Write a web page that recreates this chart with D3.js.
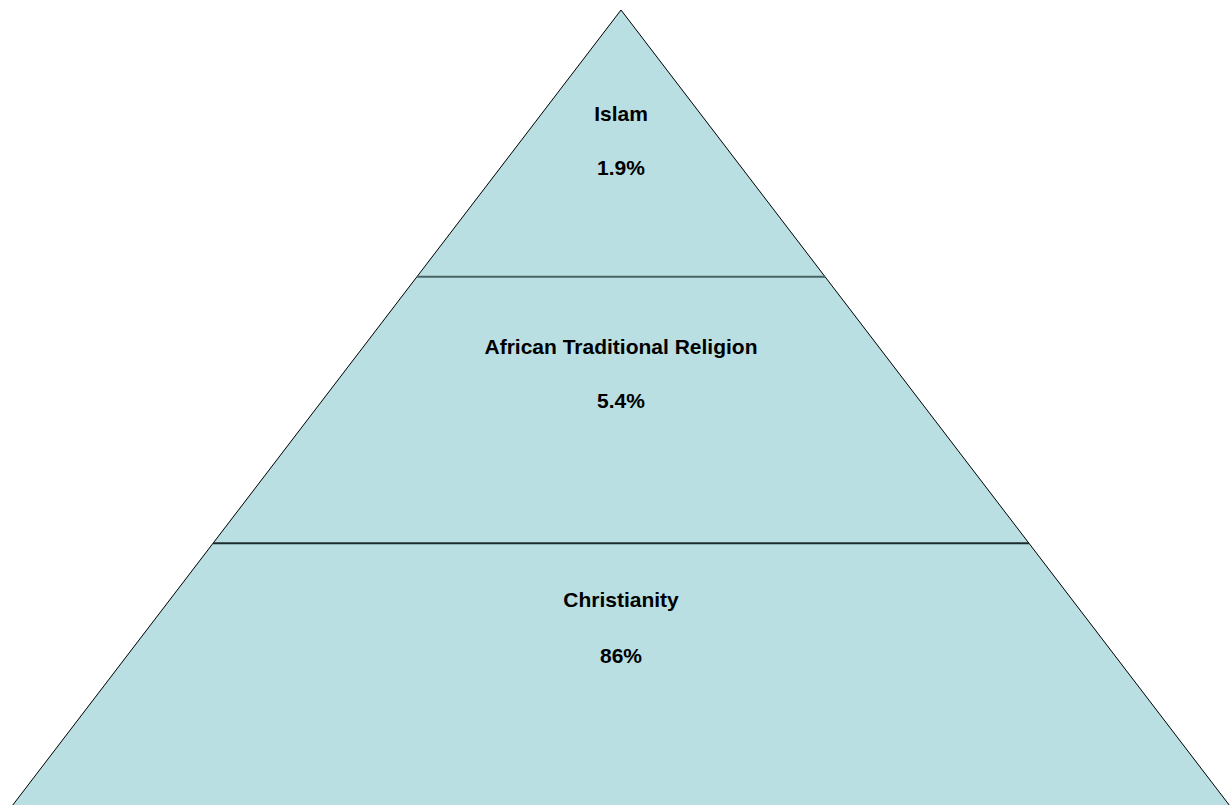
<!DOCTYPE html>
<html>
<head>
<meta charset="utf-8">
<script src="https://cdn.jsdelivr.net/npm/d3@7"></script>
<style>
  html, body { margin: 0; padding: 0; background: #ffffff; }
  svg { display: block; }
</style>
</head>
<body>
<svg id="chart" width="1231" height="805"></svg>
<script>
// Data (top of pyramid to bottom)
const categories = ["Islam", "African Traditional Religion", "Christianity"];
const values = [1.9, 5.4, 86];

const W = 1231, H = 805;
const apexX = 621, apexY = 10, baseY = 810, baseHalf = 612;
const fillColor = "#b9dfe3";

const svg = d3.select("#chart");

// Vertical band scale: each category gets an equal-height band
const y = d3.scaleLinear().domain([0, categories.length]).range([apexY, baseY]);
// Half-width as a function of y
const hw = d3.scaleLinear().domain([apexY, baseY]).range([0, baseHalf]);

const bands = categories.map((c, i) => ({
  cat: c, val: values[i], y0: y(i), y1: y(i + 1)
}));

// band polygons
svg.selectAll("path.band").data(bands).join("path")
  .attr("class", "band")
  .attr("d", d => {
    const p = d3.path();
    p.moveTo(apexX - hw(d.y0), d.y0);
    p.lineTo(apexX + hw(d.y0), d.y0);
    p.lineTo(apexX + hw(d.y1), d.y1);
    p.lineTo(apexX - hw(d.y1), d.y1);
    p.closePath();
    return p.toString();
  })
  .attr("fill", fillColor)
  .attr("stroke", fillColor)
  .attr("stroke-width", 0.5);

// outer outline (two sides)
const outline = d3.path();
outline.moveTo(apexX - hw(baseY), baseY);
outline.lineTo(apexX, apexY);
outline.lineTo(apexX + hw(baseY), baseY);
svg.append("path").attr("d", outline.toString())
  .attr("fill", "none").attr("stroke", "#000").attr("stroke-width", 1);

// divider lines
const dividerColors = ["#4a6464", "#1c2c2c"];
svg.selectAll("line.div").data(bands.slice(1)).join("line")
  .attr("class", "div")
  .attr("x1", d => apexX - hw(d.y0))
  .attr("x2", d => apexX + hw(d.y0))
  .attr("y1", d => d.y0)
  .attr("y2", d => d.y0)
  .attr("stroke", (d, i) => dividerColors[i])
  .attr("stroke-width", 2);

// label offsets from band top (layout)
const labelOff = [111, 77, 64];
const valueGap = [54, 54, 56];

const fmt = v => d3.format("")(v) + "%";

const g = svg.selectAll("g.lbl").data(bands).join("g").attr("class", "lbl");
g.append("text")
  .attr("x", apexX)
  .attr("y", (d, i) => d.y0 + labelOff[i])
  .attr("text-anchor", "middle")
  .attr("font-family", "Arial, 'Liberation Sans', sans-serif")
  .attr("font-weight", "bold")
  .attr("font-size", 21)
  .attr("fill", "#000")
  .text(d => d.cat);
g.append("text")
  .attr("x", apexX)
  .attr("y", (d, i) => d.y0 + labelOff[i] + valueGap[i])
  .attr("text-anchor", "middle")
  .attr("font-family", "Arial, 'Liberation Sans', sans-serif")
  .attr("font-weight", "bold")
  .attr("font-size", 21)
  .attr("fill", "#000")
  .text(d => fmt(d.val));
</script>
</body>
</html>
